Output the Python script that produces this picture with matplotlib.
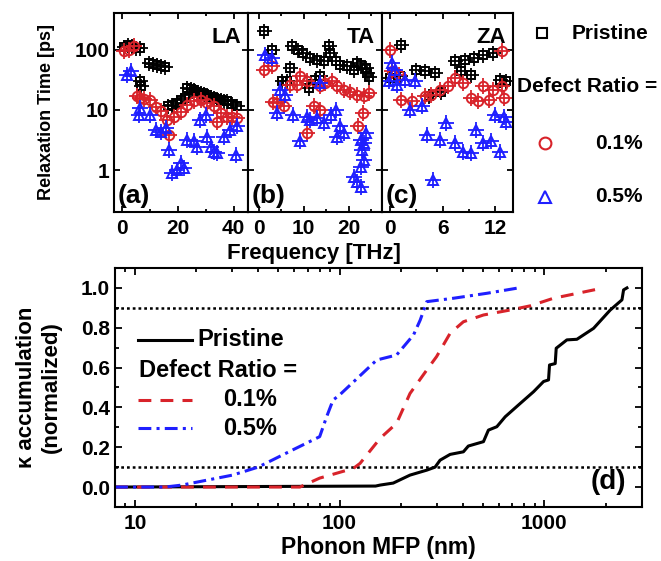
import matplotlib as mpl
import matplotlib.pyplot as plt
import matplotlib.ticker as ticker
from matplotlib.lines import Line2D

mpl.rcParams['font.family'] = ['Liberation Sans', 'DejaVu Sans']
mpl.rcParams['font.weight'] = 'bold'
mpl.rcParams['axes.linewidth'] = 1.5

RED = '#d8232a'
BLUE = '#1f1fff'

# relaxation times [ps] vs frequency [THz], per branch
la_pristine_f = [0.5, 2.0, 3.5, 5.0, 6.5, 9.5, 11.0, 12.5, 14.0, 15.5, 6.5, 6.8, 16.5, 18.0, 19.5, 21.0, 22.5,
                 23.3, 24.5, 25.7, 27.0, 28.1, 29.3, 30.5, 31.7, 32.9, 34.1, 35.3, 36.5, 37.7, 39.5, 41.3]
la_pristine_tau = [110, 118, 115, 108, 105, 60, 57, 55, 54, 52, 30, 25, 11.4, 12, 13, 14.5, 16,
                   23, 22, 21.5, 20, 19, 18.5, 17.8, 16.5, 15.6, 15, 14.7, 14, 13.8, 12.5, 11.4]
la_d01_f = [0.5, 2.3, 4.1, 5.3, 6.5, 7.7, 10.1, 12.0, 14.0, 16.1, 16.7, 18.5, 20.9, 23.3, 25.7, 28.1, 30.5,
            32.9, 34.1, 35.3, 37.7, 39.5, 41.3]
la_d01_tau = [94, 100, 115, 16.7, 15.5, 15, 14.7, 11, 9.5, 6.8, 3.8, 7.7, 9.4, 12.1, 13.8, 14.7, 12.9,
              11.4, 6.4, 8.8, 7.7, 7.5, 7.3]
la_d05_f = [1.8, 3.0, 5.9, 6.5, 10.1, 12.0, 13.9, 15.7, 16.7, 17.9, 19.7, 20.9, 22.1, 23.3, 25.7, 26.9, 28.0,
            29.9, 30.5, 31.7, 32.9, 34.1, 36.4, 38.8, 41.3, 40.7]
la_d05_tau = [38, 43.5, 8.3, 10.7, 8.3, 4.6, 4.3, 5.0, 2.15, 0.88, 1.0, 1.29, 1.1, 3.2, 3.0, 2.4, 6.8,
              8.3, 3.6, 2.4, 2.0, 1.9, 3.6, 4.6, 5.3, 1.78]

ta_pristine_f = [1.0, 2.85, 5.1, 6.2, 7.0, 7.3, 8.8, 9.9, 11.1, 11.5, 12.6, 12.9, 13.7, 14.5, 15.6, 15.9,
                 17.1, 18.2, 19.7, 21.2, 22.0, 22.7, 23.8, 24.2, 24.5]
ta_pristine_tau = [202, 100, 30, 30, 49, 114, 100, 88, 23, 73, 31, 68, 36, 64, 114, 88,
                   64, 56, 53, 46, 60, 56, 49, 41, 35]
ta_d01_f = [1.0, 2.85, 3.2, 3.95, 5.5, 7.0, 8.5, 9.2, 10.7, 10.7, 12.2, 13.7, 13.7, 14.8, 16.3, 17.5, 19.0,
            20.4, 22.0, 22.1, 23.2, 23.5, 24.6]
ta_d01_tau = [46, 53, 13.5, 12.9, 11.4, 26, 26, 36, 30, 4.1, 11.4, 24.5, 10, 28, 30, 24.5, 21.5,
              20, 17.8, 5.3, 8.8, 16.7, 19]
ta_d05_f = [1.3, 2.85, 3.95, 4.7, 5.9, 7.7, 9.2, 10.7, 11.5, 12.9, 13.7, 14.5, 16.0, 17.1, 17.5, 18.2, 19.0,
            21.2, 22.0, 22.7, 22.7, 22.7, 23.1, 23.5, 23.5, 23.8]
ta_d05_tau = [83, 73, 8.8, 21.5, 17.8, 8.3, 3.0, 7.7, 6.8, 7.3, 28, 6.0, 8.3, 10, 3.6, 5.3, 4.1,
              0.77, 0.64, 0.53, 1.14, 3.2, 2.15, 1.47, 2.8, 4.1]

za_pristine_f = [0.0, 1.1, 1.3, 3.0, 4.0, 4.4, 5.1, 5.85, 7.4, 8.1, 8.5, 9.2, 9.6, 10.6, 11.7, 12.5, 13.2]
za_pristine_tau = [34, 36, 121, 46, 43.5, 16.7, 41, 20, 64, 43.5, 68, 38, 73, 83, 88, 32, 30]
za_d01_f = [0.0, 0.2, 1.0, 1.3, 2.5, 4.0, 4.7, 5.7, 6.6, 7.4, 8.3, 9.25, 10.0, 10.6, 11.3, 11.7, 12.8, 13.0, 12.8]
za_d01_tau = [100, 43.5, 38, 14.7, 13.8, 16.7, 17.8, 21.5, 24.5, 34, 28, 15.6, 13.8, 25, 14.7, 21.5, 24.5, 15.6, 94]
za_d05_f = [0.2, 0.6, -0.1, 0.8, 1.7, 2.8, 2.3, 3.6, 4.2, 4.9, 5.7, 6.4, 7.4, 8.3, 9.25, 9.8, 10.6, 11.5,
            12.0, 12.5, 13.0, 13.2]
za_d05_tau = [60, 46, 30, 26, 32, 30, 10, 11.4, 3.8, 0.68, 3.2, 6.0, 2.8, 2.0, 1.9, 4.6, 2.8, 3.0,
              8.3, 2.0, 7.7, 6.4]

# normalized thermal conductivity accumulation vs phonon MFP [nm]
pristine_mfp = [8, 150, 158, 183, 221, 267, 293, 310, 347, 403, 426, 505, 534, 587, 645, 764, 888, 993,
                1050, 1062, 1132, 1145, 1291, 1445, 1743, 2103, 2399, 2443, 2537]
pristine_acc = [0, 0.005, 0.01, 0.02, 0.06, 0.085, 0.10, 0.135, 0.164, 0.177, 0.206, 0.228, 0.286, 0.303,
                0.353, 0.42, 0.479, 0.53, 0.538, 0.613, 0.62, 0.697, 0.739, 0.742, 0.797, 0.889, 0.94, 0.99, 1.0]
d01_mfp = [8, 64, 80, 90, 117, 126, 158, 190, 221, 267, 298, 347, 403, 505, 682, 855, 1110, 1950]
d01_acc = [0, 0, 0.045, 0.06, 0.094, 0.119, 0.245, 0.32, 0.47, 0.588, 0.655, 0.772, 0.83, 0.864, 0.889,
           0.91, 0.948, 1.0]
d05_mfp = [8, 14, 17, 30, 40, 60, 80, 86.5, 93, 100, 152, 190, 230, 248, 267, 360, 525, 750]
d05_acc = [0, 0, 0.01, 0.06, 0.10, 0.19, 0.253, 0.353, 0.437, 0.462, 0.638, 0.663, 0.764, 0.839, 0.931,
           0.948, 0.973, 1.0]

panels = [
    ('LA', '(a)', (-3, 45), [0, 20, 40], 10,
     (la_pristine_f, la_pristine_tau), (la_d01_f, la_d01_tau), (la_d05_f, la_d05_tau)),
    ('TA', '(b)', (-2.5, 27.5), [0, 10, 20], 5,
     (ta_pristine_f, ta_pristine_tau), (ta_d01_f, ta_d01_tau), (ta_d05_f, ta_d05_tau)),
    ('ZA', '(c)', (-0.9, 14), [0, 6, 12], 3,
     (za_pristine_f, za_pristine_tau), (za_d01_f, za_d01_tau), (za_d05_f, za_d05_tau)),
]
lefts = [0.1725, 0.375, 0.578]
widths = [0.202, 0.203, 0.198]

fig = plt.figure(figsize=(6.61, 5.61), dpi=100)


def scatter_cross(ax, f, tau, marker, color, ms):
    ax.plot(f, tau, ls='none', marker='+', ms=ms + 4.5, mew=1.3, color=color)
    ax.plot(f, tau, ls='none', marker=marker, ms=ms, mfc='none', mec=color, mew=1.4)


for i, (branch, tag, xlim, xt, xminor, pr, d1, d5) in enumerate(panels):
    ax = fig.add_axes([lefts[i], 0.622, widths[i], 0.355])
    scatter_cross(ax, pr[0], pr[1], 's', 'black', 6.3)
    scatter_cross(ax, d1[0], d1[1], 'o', RED, 6.8)
    scatter_cross(ax, d5[0], d5[1], '^', BLUE, 7.3)
    ax.set_yscale('log')
    ax.set_ylim(0.2, 410)
    ax.set_xlim(*xlim)
    ax.set_xticks(xt)
    ax.xaxis.set_minor_locator(ticker.MultipleLocator(xminor))
    ax.yaxis.set_minor_locator(ticker.NullLocator())
    ax.tick_params(axis='both', which='both', direction='in', top=True, right=True, labelsize=15, width=1.3)
    ax.tick_params(which='major', length=4.5)
    ax.tick_params(which='minor', length=2.5)
    ax.tick_params(axis='x', pad=5)
    ax.set_yticks([1, 10, 100])
    if i == 0:
        ax.set_yticklabels(['1', '10', '100'])
        ax.set_ylabel('Relaxation Time [ps]', fontsize=13, fontweight='bold', labelpad=14)
    else:
        ax.set_yticklabels([])
    ax.text(0.95, 0.93, branch, transform=ax.transAxes, ha='right', va='top', fontsize=16, fontweight='bold')
    ax.text(0.03, 0.02, tag, transform=ax.transAxes, ha='left', va='bottom', fontsize=19, fontweight='bold')

fig.text(0.475, 0.549, 'Frequency [THz]', ha='center', va='center', fontsize=16, fontweight='bold')

# legend for the three top panels
fig.add_artist(Line2D([0.82], [0.941], marker='s', ms=7.5, mfc='none', mec='black', mew=1.5, ls='none'))
fig.add_artist(Line2D([0.824], [0.745], marker='o', ms=8.5, mfc='none', mec=RED, mew=1.5, ls='none'))
fig.add_artist(Line2D([0.824], [0.649], marker='^', ms=8.5, mfc='none', mec=BLUE, mew=1.5, ls='none'))
fig.text(0.865, 0.941, 'Pristine', ha='left', va='center', fontsize=15, fontweight='bold')
fig.text(0.782, 0.845, 'Defect Ratio =', ha='left', va='center', fontsize=15, fontweight='bold')
fig.text(0.9, 0.745, '0.1%', ha='left', va='center', fontsize=15, fontweight='bold')
fig.text(0.9, 0.649, '0.5%', ha='left', va='center', fontsize=15, fontweight='bold')

# accumulation panel
ax = fig.add_axes([0.174, 0.0963, 0.797, 0.426])
ax.axhline(0.1, color='black', lw=1.8, ls=(0, (1.1, 1.2)))
ax.axhline(0.9, color='black', lw=1.8, ls=(0, (1.1, 1.2)))
ax.plot(pristine_mfp, pristine_acc, color='black', lw=2.2)
ax.plot(d01_mfp, d01_acc, color=RED, lw=2.2, ls=(0, (4.2, 3.0)))
ax.plot(d05_mfp, d05_acc, color=BLUE, lw=2.2, ls=(0, (4.2, 1.7, 1, 1.7)))
ax.set_xscale('log')
ax.set_xlim(8, 3000)
ax.set_ylim(-0.1, 1.1)
ax.set_xticks([10, 100, 1000])
ax.set_xticklabels(['10', '100', '1000'])
ax.yaxis.set_major_locator(ticker.MultipleLocator(0.2))
ax.yaxis.set_minor_locator(ticker.MultipleLocator(0.1))
ax.yaxis.set_major_formatter(ticker.FormatStrFormatter('%.1f'))
ax.tick_params(axis='both', which='both', direction='in', top=True, right=True, labelsize=15, width=1.3)
ax.tick_params(which='major', length=5)
ax.tick_params(which='minor', length=3)
ax.tick_params(axis='x', pad=5)
ax.set_xlabel('Phonon MFP (nm)', fontsize=16.5, fontweight='bold', labelpad=2)
ax.set_ylabel('\u03ba accumulation\n(normalized)', fontsize=16, fontweight='bold', labelpad=14, linespacing=1.2)
ax.text(0.97, 0.05, '(d)', transform=ax.transAxes, ha='right', va='bottom', fontsize=20, fontweight='bold')

# legend keys drawn in axes fraction
ax.add_line(Line2D([0.044, 0.146], [0.699, 0.699], transform=ax.transAxes, color='black', lw=2.2))
ax.add_line(Line2D([0.044, 0.146], [0.448, 0.448], transform=ax.transAxes, color=RED, lw=2.2,
                   ls=(0, (4.2, 3.0))))
ax.add_line(Line2D([0.044, 0.146], [0.33, 0.33], transform=ax.transAxes, color=BLUE, lw=2.2,
                   ls=(0, (4.2, 1.7, 1, 1.7))))
ax.text(0.157, 0.699, 'Pristine', transform=ax.transAxes, ha='left', va='center', fontsize=17, fontweight='bold')
ax.text(0.046, 0.573, 'Defect Ratio =', transform=ax.transAxes, ha='left', va='center', fontsize=17,
        fontweight='bold')
ax.text(0.205, 0.448, '0.1%', transform=ax.transAxes, ha='left', va='center', fontsize=17, fontweight='bold')
ax.text(0.205, 0.33, '0.5%', transform=ax.transAxes, ha='left', va='center', fontsize=17, fontweight='bold')

fig.savefig('out.png', dpi=100)
